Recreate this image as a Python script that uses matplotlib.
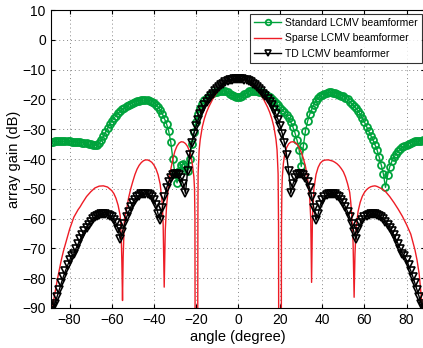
import numpy as np
import matplotlib
matplotlib.use("Agg")
import matplotlib.pyplot as plt

plt.rcParams['font.family'] = ['Liberation Sans', 'DejaVu Sans']

# Angles for the marker curves (degrees)
angle = list(range(-89, 90))

# Standard LCMV beamformer (dB)
standard_gain = [
    -34.2, -34.2, -34.1, -34.1, -34.1, -34.1, -34.1, -34.1, -34.1, -34.1,   # -89..-80
    -34.2, -34.2, -34.2, -34.3, -34.4, -34.5, -34.6, -34.7, -34.9, -35.1,   # -79..-70
    -35.3, -35.4, -35.2, -34.6, -33.6, -32.4, -31.0, -29.7, -28.4, -27.3,   # -69..-60
    -26.3, -25.4, -24.6, -23.9, -23.3, -22.7, -22.2, -21.8, -21.4, -21.1,   # -59..-50
    -20.8, -20.6, -20.4, -20.3, -20.2, -20.2, -20.2, -20.4, -20.7, -21.1,   # -49..-40
    -21.7, -22.5, -23.5, -24.8, -26.4, -28.2, -30.5, -34.2, -40.0, -45.0,   # -39..-30
    -48.0, -44.0, -42.0, -41.5, -42.5, -44.0, -40.0, -35.0, -31.0, -27.5,   # -29..-20
    -25.0, -23.0, -21.5, -20.3, -19.4, -18.7, -18.2, -17.9, -17.6, -17.4,   # -19..-10
    -17.2, -17.1, -17.1, -17.3, -17.6, -18.0, -18.5, -18.9, -19.2,          # -9..-1
    -19.3,                                                                  # 0
    -19.1, -18.7, -18.2, -17.7, -17.3, -17.1, -17.0, -17.1, -17.2, -17.4,   # 1..10
    -17.6, -17.9, -18.3, -18.7, -19.2, -19.8, -20.5, -21.2, -21.9, -22.7,   # 11..20
    -23.5, -24.3, -25.2, -26.3, -27.6, -29.2, -31.2, -33.7, -37.0, -42.5,   # 21..30
    -35.5, -30.5, -27.3, -25.0, -23.2, -21.7, -20.5, -19.6, -18.9, -18.4,   # 31..40
    -18.0, -17.8, -17.6, -17.6, -17.7, -17.8, -18.1, -18.4, -18.7, -19.0,   # 41..50
    -19.4, -20.0, -20.7, -21.5, -22.3, -23.0, -23.8, -25.0, -26.3, -27.6,   # 51..60
    -29.1, -30.6, -32.1, -33.5, -35.2, -37.0, -39.3, -42.0, -45.0, -49.5,   # 61..70
    -45.5, -42.6, -40.8, -39.4, -38.3, -37.4, -36.7, -36.1, -35.6, -35.2,   # 71..80
    -34.8, -34.5, -34.3, -34.1, -34.0, -33.9, -33.8, -33.7, -33.7,          # 81..89
]

# TD LCMV beamformer (dB)
td_gain = [
    -90.0, -89.5, -88.5, -86.3, -84.0, -81.7, -79.5, -77.5, -75.7, -74.0,   # -89..-80
    -72.5, -71.8, -70.1, -68.5, -67.0, -65.6, -64.3, -63.1, -62.0, -61.0,   # -79..-70
    -60.2, -59.5, -59.0, -58.7, -58.5, -58.5, -58.6, -58.8, -59.1, -59.6,   # -69..-60
    -60.3, -61.5, -63.5, -67.0, -64.5, -61.9, -59.6, -57.7, -56.1, -54.8,   # -59..-50
    -53.7, -52.9, -52.3, -51.9, -51.7, -51.7, -51.9, -52.2, -52.7, -53.8,   # -49..-40
    -55.5, -58.5, -60.5, -56.5, -52.8, -49.8, -47.7, -46.3, -45.4, -45.0,   # -39..-30
    -45.0, -45.5, -46.5, -48.5, -51.5, -44.0, -38.5, -34.5, -31.5, -29.0,   # -29..-20
    -26.8, -25.0, -23.4, -22.0, -20.9, -19.8, -18.9, -18.0, -17.2, -16.5,   # -19..-10
    -15.9, -15.3, -14.8, -14.3, -13.9, -13.6, -13.4, -13.2, -13.1,          # -9..-1
    -13.0,                                                                  # 0
    -13.1, -13.2, -13.4, -13.6, -13.9, -14.3, -14.8, -15.3, -15.9, -16.5,   # 1..10
    -17.2, -18.0, -18.9, -19.8, -20.9, -22.0, -23.4, -25.0, -26.8, -29.0,   # 11..20
    -31.5, -34.5, -38.5, -44.0, -51.5, -48.5, -46.5, -45.5, -45.0, -45.0,   # 21..30
    -45.4, -46.3, -47.7, -49.8, -52.8, -56.5, -60.5, -58.5, -55.5, -53.8,   # 31..40
    -52.7, -52.2, -51.9, -51.7, -51.7, -51.9, -52.3, -52.9, -53.7, -54.8,   # 41..50
    -56.1, -57.7, -59.6, -61.9, -64.5, -67.0, -63.5, -61.5, -60.3, -59.6,   # 51..60
    -59.1, -58.8, -58.6, -58.5, -58.5, -58.7, -59.0, -59.5, -60.2, -61.0,   # 61..70
    -62.0, -63.1, -64.3, -65.6, -67.0, -68.5, -70.1, -71.8, -72.5, -74.0,   # 71..80
    -75.7, -77.5, -79.5, -81.7, -84.0, -86.3, -88.5, -89.5, -90.0,          # 81..89
]

# Sparse LCMV beamformer: extra angles near the sharp nulls
sparse_angle = [
    -89, -88, -87, -86, -85, -84, -83, -82, -80, -78, -76, -75, -74, -72, -70,
    -68, -66, -64, -62, -60, -59, -58, -57, -56, -55.5, -55.2, -54.9, -54.6,
    -54.2, -54, -53, -52, -51, -50, -49, -48, -47, -46, -45, -44, -43, -42,
    -41, -40, -39, -38, -37, -36, -35.6, -35.1, -34.6, -34, -33, -32, -31, -30,
    -29, -28, -27, -26, -25, -24, -23, -22, -21.5, -21, -20.7, -20.5, -20.4,
    -19.2, -19.1, -19, -18.5, -18, -17, -16, -15, -14, -13, -12, -10, -8, -6,
    -4, -2, 0, 2, 4, 6, 8, 10, 12, 13, 14, 15, 16, 17, 18, 18.5, 19, 19.2,
    19.3, 20.5, 20.6, 20.8, 21, 21.5, 22, 23, 24, 25, 26, 27, 28, 29, 30, 31,
    32, 33, 34, 34.5, 34.9, 35.3, 36, 37, 38, 39, 40, 41, 42, 43, 44, 45, 46,
    47, 48, 49, 50, 51, 52, 53, 53.5, 54, 54.6, 55.1, 55.5, 56, 57, 58, 59, 60,
    61, 62, 63, 64, 65, 66, 68, 70, 72, 74, 76, 78, 80, 82, 84, 85, 86, 87,
    87.5, 88, 89,
]
sparse_gain = [
    -95, -89, -85, -81, -77.5, -74, -71, -68.5, -63.5, -59.5, -57, -56, -54.8,
    -52.6, -51, -49.7, -49.1, -49.0, -49.4, -50.6, -51.6, -53.2, -55.5, -59,
    -66, -75, -87.5, -73, -64, -60, -57, -53, -50, -47.5, -45.2, -43.4, -42.1,
    -41.2, -40.6, -40.3, -40.3, -40.6, -41.1, -42, -43.3, -45.3, -48.5, -55,
    -62, -83, -64, -56, -48.5, -43.5, -40, -37.3, -35.6, -34.6, -34.2, -34.3,
    -34.8, -35.8, -37.5, -40.5, -43, -46, -50, -60, -110,
    -110, -60, -45, -37, -33.5, -29.2, -26.4, -24.3, -22.6, -21.2, -19.8,
    -17.6, -16.0, -14.5, -13.7, -13.2, -13.0, -13.2, -13.7, -14.5, -16.0,
    -17.6, -19.8, -21.2, -22.6, -24.3, -26.4, -29.2, -33.5, -37, -45, -62,
    -110, -110, -62, -50, -46, -41.5, -39, -36.2, -34.9, -34.3, -34.2, -34.4,
    -35, -36.2, -37.7, -39.8, -42.5, -46.5, -53, -60, -81.4, -60, -50, -45.2,
    -42.8, -41.4, -40.7, -40.4, -40.3, -40.3, -40.5, -40.7, -41.1, -41.6,
    -42.3, -43.2, -44.3, -46, -48.3, -51.2, -54.5, -59, -68, -86.4, -72,
    -63.5, -57.5, -54.5, -52.5, -51.2, -50.3, -49.7, -49.3, -49.1, -49.0,
    -49.2, -49.9, -50.9, -52.6, -54.6, -56.8, -59.2, -62, -65.2, -70.5, -74,
    -78.6, -86, -90, -95, -100,
]

# Figure, same pixel size as the reference
fig = plt.figure(figsize=(4.23, 3.48), dpi=100)
ax = fig.add_axes([0.1199, 0.115, 0.886, 0.856])

# Curves
ax.plot(angle, standard_gain, '-o', color='#00a33c', lw=1.0,
        markersize=5.0, markerfacecolor='none', markeredgewidth=1.3,
        label='Standard LCMV beamformer')
ax.plot(sparse_angle, sparse_gain, '-', color='#ee1c25', lw=1.0,
        label='Sparse LCMV beamformer')
ax.plot(angle, td_gain, '-v', color='black', lw=1.0,
        markersize=5.6, markerfacecolor='none', markeredgewidth=1.2,
        label='TD LCMV beamformer')

# Axes, ticks and grid (MATLAB look)
ax.set_xlim(-89, 89)
ax.set_ylim(-90, 10)
ax.set_xticks(range(-80, 81, 20))
ax.set_yticks(range(-90, 11, 10))
ax.tick_params(direction='in', top=True, right=True, labelsize=10, length=3)
ax.grid(True, linestyle=(0, (1, 3)), color='#888888', linewidth=0.7)
for s in ax.spines.values():
    s.set_linewidth(0.8)

# Labels
ax.set_xlabel('angle (degree)', fontsize=10.5, labelpad=2)
ax.set_ylabel('array gain (dB)', fontsize=10.5, labelpad=1)

# Legend
leg = ax.legend(loc='upper right', bbox_to_anchor=(0.997, 0.96),
                bbox_transform=fig.transFigure, fontsize=7.5, frameon=True,
                fancybox=False, edgecolor='black', handlelength=2.6,
                labelspacing=0.5, borderpad=0.4, handletextpad=0.35,
                borderaxespad=0, markerscale=0.8)
leg.get_frame().set_linewidth(0.8)

fig.savefig('out.png', dpi=100)
